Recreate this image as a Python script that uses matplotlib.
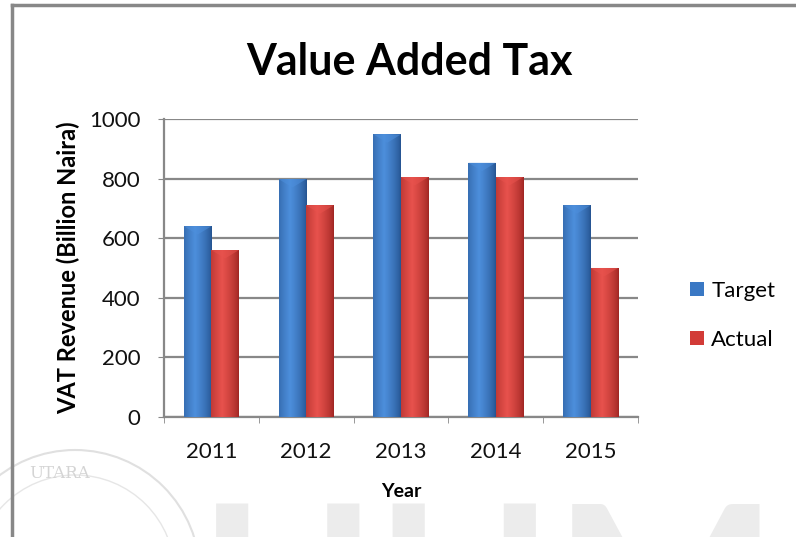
import numpy as np
import matplotlib
matplotlib.use('Agg')
import matplotlib.pyplot as plt
from matplotlib.patches import Ellipse

years = ['2011', '2012', '2013', '2014', '2015']
target = [640, 798, 948, 853, 710]
actual = [560, 710, 805, 805, 500]

plt.rcParams['font.family'] = ['Lato', 'DejaVu Sans']

fig = plt.figure(figsize=(7.96, 5.37), dpi=100)
ax = fig.add_axes([0.206, 0.2235, 0.5955, 0.555])

x = np.arange(len(years))
w = 0.29

# horizontal shading across each bar, dark edges lighter middle
def shade(bars, dark, light):
    dark = np.array(matplotlib.colors.to_rgb(dark))
    light = np.array(matplotlib.colors.to_rgb(light))
    t = np.linspace(0, 1, 64)
    k = np.clip(1 - np.abs(t - 0.4) / 0.6, 0, 1) ** 0.7
    row = dark[None, :] * (1 - k[:, None]) + light[None, :] * k[:, None]
    img = row[None, :, :]
    for b in bars:
        x0, h, bw = b.get_x(), b.get_height(), b.get_width()
        im = ax.imshow(img, extent=(x0, x0 + bw, 0, h), aspect='auto',
                       zorder=3, interpolation='bilinear')
        im.set_clip_path(b)
        # little bevel at the top
        tri = plt.Polygon([[x0, h], [x0 + bw, h], [x0 + bw * 0.5, h - 28]],
                          closed=True, color=light, alpha=0.55, zorder=4, lw=0)
        ax.add_patch(tri)

b1 = ax.bar(x - w / 2, target, w, color='#3a78c4', zorder=2, label='Target')
b2 = ax.bar(x + w / 2, actual, w, color='#d23b37', zorder=2, label='Actual')
shade(b1, '#24528f', '#4d8fdc')
shade(b2, '#9e2522', '#e8524d')

ax.set_xlim(-0.5, len(years) - 0.5)
ax.set_ylim(0, 1000)
ax.set_yticks(range(0, 1001, 200))
ax.set_xticks(x)
ax.set_xticklabels(years)
ax.set_xticks(np.arange(-0.5, len(years), 1), minor=True)
ax.tick_params(axis='x', which='major', length=0, pad=18, labelsize=16, colors='#111111')
ax.tick_params(axis='x', which='minor', length=4, color='#888888')
ax.tick_params(axis='y', length=4, color='#888888', pad=13, labelsize=16, labelcolor='#111111')
ax.grid(axis='y', color='#888888', lw=1.6, zorder=0)
ax.set_axisbelow(True)
for s in ['top', 'right']:
    ax.spines[s].set_visible(False)
for s in ['left', 'bottom']:
    ax.spines[s].set_color('#888888')
    ax.spines[s].set_linewidth(1.6)

ax.set_xlabel('Year', fontsize=14, fontweight='bold', labelpad=15)
ax.set_ylabel('VAT Revenue (Billion Naira)', fontsize=17, fontweight='bold', labelpad=6)
fig.text(0.515, 0.885, 'Value Added Tax', ha='center', va='center',
         fontsize=31, fontweight='bold')

leg = fig.legend(handles=[b1, b2], loc='center left', bbox_to_anchor=(0.842, 0.413),
                 frameon=False, fontsize=16, handlelength=0.6, handleheight=0.6,
                 labelspacing=1.3, handletextpad=0.35)

# chart border (top and left visible)
fig.add_artist(plt.Line2D([0.015, 1.0], [0.99, 0.99], color='#888888', lw=2.5))
fig.add_artist(plt.Line2D([0.015, 0.015], [0.0, 0.99], color='#888888', lw=2.5))

# faint watermark
fig.text(0.615, -0.26, 'UUM', ha='center', va='baseline', fontsize=172,
         fontweight='bold', color='#ececec', zorder=-1)
fig.add_artist(Ellipse((75 / 796, 1 - 575 / 537), 250 / 796, 250 / 537,
                       transform=fig.transFigure, fill=False, ec='#e0e0e0', lw=1.5))
fig.add_artist(Ellipse((75 / 796, 1 - 575 / 537), 200 / 796, 200 / 537,
                       transform=fig.transFigure, fill=False, ec='#e6e6e6', lw=1.0))
fig.text(0.075, 0.11, 'UTARA', ha='center', fontsize=12, color='#d4d4d4',
         family='DejaVu Serif')

fig.savefig('out.png', dpi=100)
